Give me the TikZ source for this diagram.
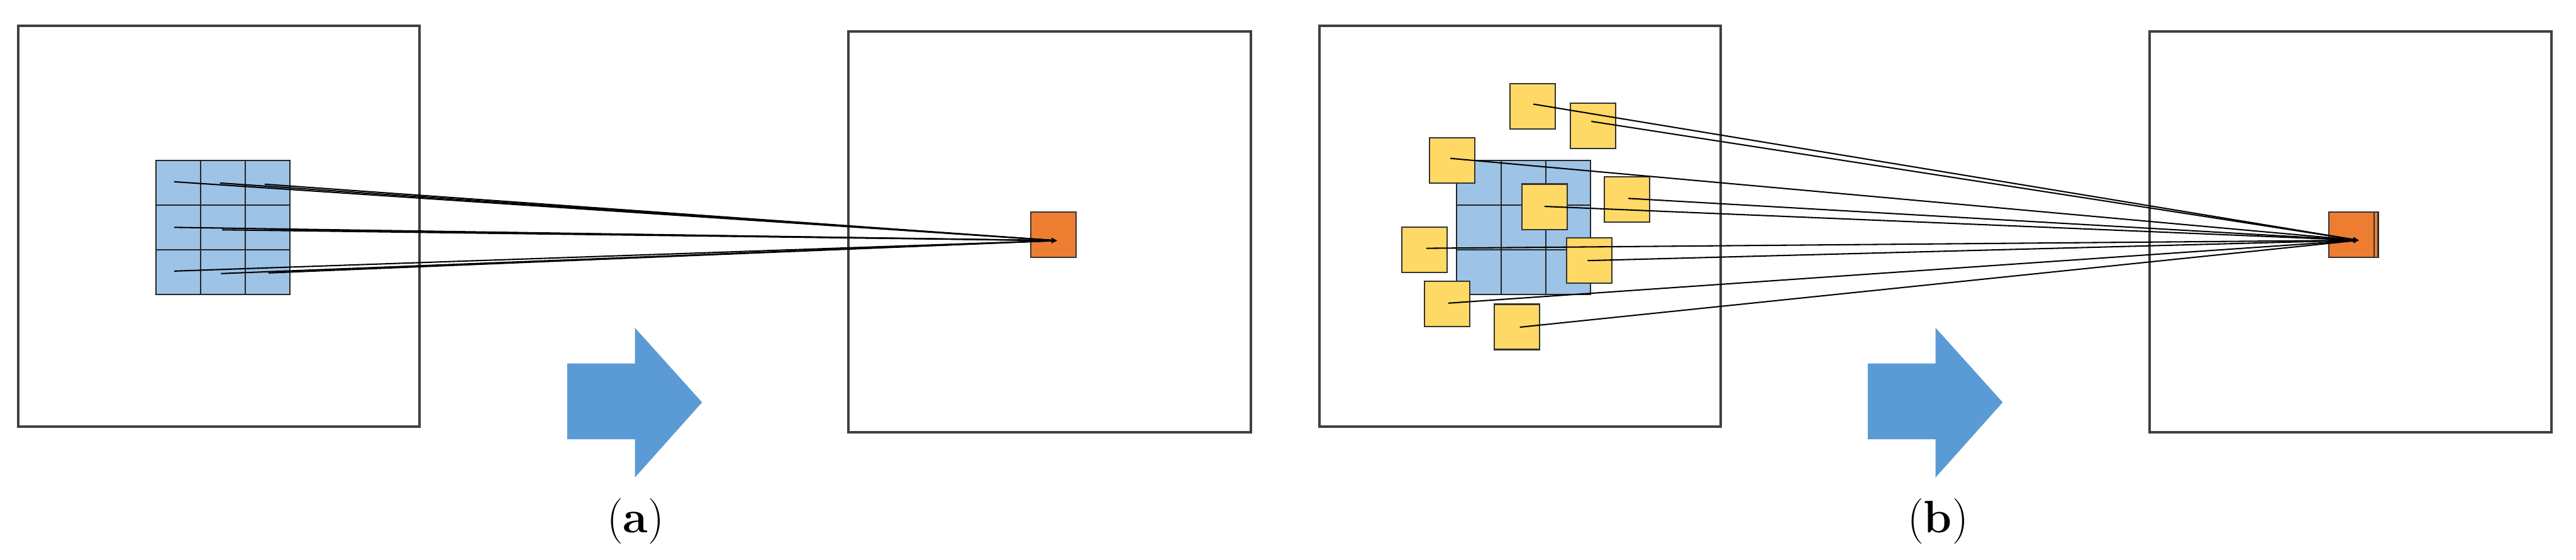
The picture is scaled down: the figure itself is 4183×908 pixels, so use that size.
\documentclass[tikz,border=0pt]{standalone}
\usepackage{tikz}
\usetikzlibrary{arrows.meta}
\definecolor{cellblue}{RGB}{157,195,230}
\definecolor{sampyel}{RGB}{255,217,102}
\definecolor{outorg}{RGB}{237,125,49}
\definecolor{arrblue}{RGB}{91,155,213}
\definecolor{boxgray}{RGB}{64,64,64}
\tikzset{
  imgbox/.style={draw=boxgray, line width=1.15pt},
  cell/.style={draw=black!85, fill=cellblue, line width=0.6pt},
  samp/.style={draw=black!80, fill=sampyel, line width=0.6pt,
               minimum size=0.735cm, inner sep=0pt},
  outpx/.style={draw=black!80, fill=outorg, line width=0.6pt,
                minimum size=0.735cm, inner sep=0pt},
  ray/.style={-{Stealth[length=2.4pt, width=2.2pt]}, black, line width=0.6pt},
  sublab/.style={font=\fontsize{21}{25}\selectfont},
}
% 3x3 kernel grid, top left corner at #1,#2
\newcommand{\kgrid}[2]{%
  \foreach \i in {0,1,2}
    \foreach \j in {0,1,2}
      \draw[cell] ({#1+\i*72.7},{#2+\j*72.7}) rectangle ++(72.7,72.7);}
% fat block arrow, left end at #1
\newcommand{\bigarrow}[1]{%
  \fill[arrblue] (#1,590) -- ++(110,0) -- ++(0,-58) -- ++(109,121)
    -- ++(-109,122) -- ++(0,-62) -- ++(-110,0) -- cycle;}

\begin{document}
\begin{tikzpicture}[x=0.01cm, y=-0.01cm]
  \useasboundingbox (0,0) rectangle (4183,908);

  % (a) regular convolution
  \draw[imgbox] (29.5,41.5) rectangle (681,692);
  \draw[imgbox] (1378,51) rectangle (2031,702);
  \kgrid{253}{260}
  \node[outpx] (oa) at (1711,381) {};
  \coordinate (ta) at (1716,390.5);
  \coordinate (a1) at (283,295);
  \coordinate (a2) at (357,297);
  \coordinate (a3) at (430,299);
  \coordinate (a4) at (283,369);
  \coordinate (a5) at (361,373);
  \coordinate (a6) at (437,372);
  \coordinate (a7) at (283,440);
  \coordinate (a8) at (359,444);
  \coordinate (a9) at (436,443);
  \foreach \k in {1,...,9}
    \draw[ray] (a\k) -- (ta);
  \bigarrow{921}
  \node[sublab] (laba) at (1032,846) {(\textbf{a})};

  % (b) deformable sampling
  \draw[imgbox] (2143,41.5) rectangle (2794,692);
  \draw[imgbox] (3491,51) rectangle (4143,702);
  \kgrid{2365}{260}
  \node[samp] (y1) at (2488.5,173) {};
  \node[samp] (y2) at (2587,204.5) {};
  \node[samp] (y3) at (2358,260.5) {};
  \node[samp] (y4) at (2508,335.5) {};
  \node[samp] (y5) at (2641.5,324) {};
  \node[samp] (y6) at (2313.5,405) {};
  \node[samp] (y7) at (2581,422.5) {};
  \node[samp] (y8) at (2349.5,493.5) {};
  \node[samp] (y9) at (2463,530.5) {};
  \node[outpx] (ob2) at (3825,380.5) {};
  \node[outpx] (ob) at (3818.5,380.5) {};
  \coordinate (tb) at (3830,390);
  \coordinate (b1) at (2490,169);
  \coordinate (b2) at (2584,197);
  \coordinate (b3) at (2355,257);
  \coordinate (b4) at (2508,335);
  \coordinate (b5) at (2644,322);
  \coordinate (b6) at (2316,403);
  \coordinate (b7) at (2578,423);
  \coordinate (b8) at (2352,492);
  \coordinate (b9) at (2468,531);
  \foreach \k in {1,...,9}
    \draw[ray] (b\k) -- (tb);
  \bigarrow{3033}
  \node[sublab] (labb) at (3147,846) {(\textbf{b})};
\end{tikzpicture}
\end{document}
